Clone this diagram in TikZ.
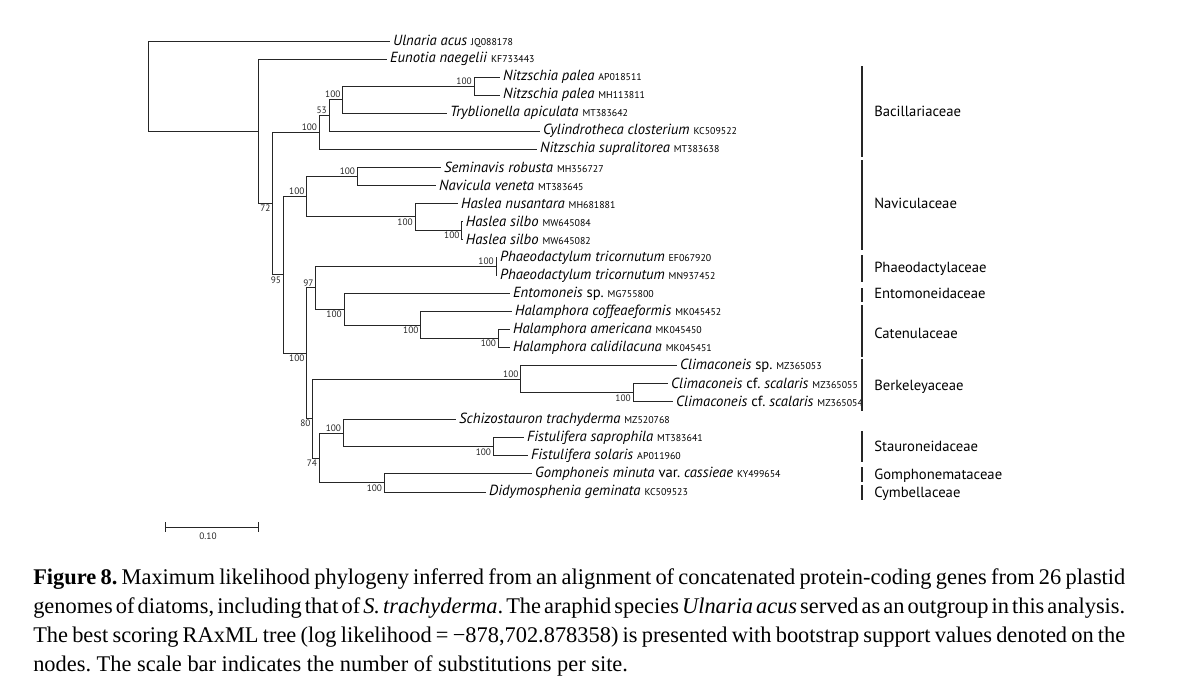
\documentclass[tikz,border=0pt]{standalone}
\usepackage{fontspec}
\setmainfont{Liberation Serif}
\newfontfamily\treefont{PT Sans}
\newcommand\accno[1]{{\fontsize{7.4}{8}\selectfont #1}}
\newcommand\capsp{\spaceskip=0.24em plus 0.5em minus 0.11em\relax}
\newcommand\capline[1]{\hbox to 819pt{\capsp #1}}
\frenchspacing
\begin{document}
\begin{tikzpicture}[x=0.75pt,y=-0.75pt,
  br/.style={line width=0.75pt, draw=black!85},
  leaf/.style={anchor=west, inner sep=2.2pt, font=\treefont\fontsize{11}{12}\selectfont},
  bs/.style={font=\treefont\fontsize{7}{8}\selectfont, inner sep=1pt, text=black!85},
  bsa/.style={bs, anchor=south east, xshift=-0.5pt},
  bsb/.style={bs, anchor=north east, xshift=-0.5pt},
  fam/.style={anchor=west, inner sep=0pt, font=\treefont\fontsize{11}{12}\selectfont},
  famline/.style={line width=1pt, draw=black!85},
  captext/.style={anchor=base west, inner sep=0pt, font=\fontsize{16.8}{19}\selectfont}]
\useasboundingbox (0,0) rectangle (1181,687);
% internal nodes
\coordinate (root) at (148,86.17);
\coordinate (A) at (258,131.34);
\coordinate (B) at (272.7,203.64);
\coordinate (C) at (319.3,132.33);
\coordinate (D) at (329,115.42);
\coordinate (E) at (342.7,99.63);
\coordinate (F) at (474,86.1);
\coordinate (L) at (283.3,274.95);
\coordinate (H) at (306.7,196.6);
\coordinate (I) at (357.3,176.3);
\coordinate (J) at (415,216.89);
\coordinate (K) at (461.7,230.42);
\coordinate (M) at (306.7,353.3);
\coordinate (N) at (315.7,287.9);
\coordinate (Q) at (496,266.5);
\coordinate (R) at (344,309.35);
\coordinate (S) at (420.7,325.13);
\coordinate (T) at (498.3,338.66);
\coordinate (P) at (312.7,418.7);
\coordinate (U) at (520.7,379.25);
\coordinate (W) at (633,392.78);
\coordinate (V) at (319.3,458.2);
\coordinate (X) at (343.3,433.37);
\coordinate (Z) at (493.3,446.9);
\coordinate (Y) at (384.3,482.98);
% leaves
\node[leaf] (l1) at (390,41) {\textit{Ulnaria acus} \accno{JQ088178}};
\node[leaf] (l2) at (387,59.04) {\textit{Eunotia naegelii} \accno{KF733443}};
\node[leaf] (l3) at (500,77.08) {\textit{Nitzschia palea} \accno{AP018511}};
\node[leaf] (l4) at (500,95.12) {\textit{Nitzschia palea} \accno{MH113811}};
\node[leaf] (l5) at (447,113.16) {\textit{Tryblionella apiculata} \accno{MT383642}};
\node[leaf] (l6) at (540,131.2) {\textit{Cylindrotheca closterium} \accno{KC509522}};
\node[leaf] (l7) at (537,149.24) {\textit{Nitzschia supralitorea} \accno{MT383638}};
\node[leaf] (l8) at (441,167.28) {\textit{Seminavis robusta} \accno{MH356727}};
\node[leaf] (l9) at (436,185.32) {\textit{Navicula veneta} \accno{MT383645}};
\node[leaf] (l10) at (458,203.36) {\textit{Haslea nusantara} \accno{MH681881}};
\node[leaf] (l11) at (462.7,221.4) {\textit{Haslea silbo} \accno{MW645084}};
\node[leaf] (l12) at (462.7,239.44) {\textit{Haslea silbo} \accno{MW645082}};
\node[leaf] (l13) at (497,257.48) {\textit{Phaeodactylum tricornutum} \accno{EF067920}};
\node[leaf] (l14) at (497,275.52) {\textit{Phaeodactylum tricornutum} \accno{MN937452}};
\node[leaf] (l15) at (510,293.56) {\textit{Entomoneis} sp. \accno{MG755800}};
\node[leaf] (l16) at (512,311.6) {\textit{Halamphora coffeaeformis} \accno{MK045452}};
\node[leaf] (l17) at (510,329.64) {\textit{Halamphora americana} \accno{MK045450}};
\node[leaf] (l18) at (510,347.68) {\textit{Halamphora calidilacuna} \accno{MK045451}};
\node[leaf] (l19) at (677,365.72) {\textit{Climaconeis} sp. \accno{MZ365053}};
\node[leaf] (l20) at (668,383.76) {\textit{Climaconeis} cf. \textit{scalaris} \accno{MZ365055}};
\node[leaf] (l21) at (673,401.8) {\textit{Climaconeis} cf. \textit{scalaris} \accno{MZ365054}};
\node[leaf] (l22) at (456,419.84) {\textit{Schizostauron trachyderma} \accno{MZ520768}};
\node[leaf] (l23) at (524,437.88) {\textit{Fistulifera saprophila} \accno{MT383641}};
\node[leaf] (l24) at (528,455.92) {\textit{Fistulifera solaris} \accno{AP011960}};
\node[leaf] (l25) at (532,473.96) {\textit{Gomphoneis minuta} var. \textit{cassieae} \accno{KY499654}};
\node[leaf] (l26) at (486,492) {\textit{Didymosphenia geminata} \accno{KC509523}};
% branches
\draw[br] (root) |- (l1.west);  \draw[br] (root) |- (A);
\draw[br] (A) |- (l2.west);     \draw[br] (A) |- (B);
\draw[br] (B) |- (C);           \draw[br] (B) |- (L);
\draw[br] (C) |- (D);           \draw[br] (C) |- (l7.west);
\draw[br] (D) |- (E);           \draw[br] (D) |- (l6.west);
\draw[br] (E) |- (F);           \draw[br] (E) |- (l5.west);
\draw[br] (F) |- (l3.west);     \draw[br] (F) |- (l4.west);
\draw[br] (L) |- (H);           \draw[br] (L) |- (M);
\draw[br] (H) |- (I);           \draw[br] (H) |- (J);
\draw[br] (I) |- (l8.west);     \draw[br] (I) |- (l9.west);
\draw[br] (J) |- (l10.west);    \draw[br] (J) |- (K);
\draw[br] (K) |- (l11.west);    \draw[br] (K) |- (l12.west);
\draw[br] (M) |- (N);           \draw[br] (M) |- (P);
\draw[br] (N) |- (Q);           \draw[br] (N) |- (R);
\draw[br] (Q) |- (l13.west);    \draw[br] (Q) |- (l14.west);
\draw[br] (R) |- (l15.west);    \draw[br] (R) |- (S);
\draw[br] (S) |- (l16.west);    \draw[br] (S) |- (T);
\draw[br] (T) |- (l17.west);    \draw[br] (T) |- (l18.west);
\draw[br] (P) |- (U);           \draw[br] (P) |- (V);
\draw[br] (U) |- (l19.west);    \draw[br] (U) |- (W);
\draw[br] (W) |- (l20.west);    \draw[br] (W) |- (l21.west);
\draw[br] (V) |- (X);           \draw[br] (V) |- (Y);
\draw[br] (X) |- (l22.west);    \draw[br] (X) |- (Z);
\draw[br] (Z) |- (l23.west);    \draw[br] (Z) |- (l24.west);
\draw[br] (Y) |- (l25.west);    \draw[br] (Y) |- (l26.west);
% bootstrap values
\node[bsa] (bF) at (F) {100};
\node[bsa] (bE) at (E) {100};
\node[bsa] (bD) at (D) {53};
\node[bsa] (bC) at (C) {100};
\node[bsb] (bB) at (B) {72};
\node[bsa] (bH) at (H) {100};
\node[bsa] (bI) at (I) {100};
\node[bsb] (bJ) at (J) {100};
\node[bsb] (bK) at (K) {100};
\node[bsb] (bL) at (L) {95};
\node[bsb] (bM) at (M) {100};
\node[bsa] (bN) at (N) {97};
\node[bsa] (bQ) at (Q) {100};
\node[bsb] (bR) at (R) {100};
\node[bsb] (bS) at (S) {100};
\node[bsb] (bT) at (T) {100};
\node[bsa] (bU) at (U) {100};
\node[bsb] (bW) at (W) {100};
\node[bsb] (bP) at (P) {80};
\node[bsa] (bX) at (X) {100};
\node[bsb] (bZ) at (Z) {100};
\node[bsb] (bV) at (V) {74};
\node[bsb] (bY) at (Y) {100};
% families
\draw[famline] (862,66) -- (862,157);
\draw[famline] (862,160) -- (862,250);
\draw[famline] (862,255) -- (862,282);
\draw[famline] (862,288) -- (862,302);
\draw[famline] (862,305) -- (862,357);
\draw[famline] (862,359) -- (862,411);
\draw[famline] (862,431) -- (862,462);
\draw[famline] (862,467) -- (862,482);
\draw[famline] (862,485) -- (862,500);
\node[fam] (f1) at (874,111) {Bacillariaceae};
\node[fam] (f2) at (874,203) {Naviculaceae};
\node[fam] (f3) at (874,269) {Phaeodactylaceae};
\node[fam] (f4) at (874,293) {Entomoneidaceae};
\node[fam] (f5) at (874,333) {Catenulaceae};
\node[fam] (f6) at (874,387) {Berkeleyaceae};
\node[fam] (f7) at (874,446) {Stauroneidaceae};
\node[fam] (f8) at (874,476) {Gomphonemataceae};
\node[fam] (f9) at (874,494) {Cymbellaceae};
% scale bar
\coordinate (sb1) at (165,527);
\coordinate (sb2) at (258,527);
\draw[br] (sb1) -- (sb2);
\draw[br] ([yshift=-3.5]sb1) -- ([yshift=3.5]sb1);
\draw[br] ([yshift=-3.5]sb2) -- ([yshift=3.5]sb2);
\node[bs, anchor=north] (sbl) at (208,531) {0.10};
% caption
\node[captext] (c1) at (33,584) {\capline{\textbf{Figure 8.} Maximum likelihood phylogeny inferred from an alignment of concatenated protein-coding genes from 26 plastid}};
\node[captext] (c2) at (33,613) {\capline{genomes of diatoms, including that of \textit{S.~trachyderma}. The araphid species \textit{Ulnaria acus} served as an outgroup in this analysis.}};
\node[captext] (c3) at (33,642) {\capline{The best scoring RAxML tree (log likelihood = −878,702.878358) is presented with bootstrap support values denoted on the}};
\node[captext] (c4) at (33,671) {nodes. The scale bar indicates the number of substitutions per site.};
\end{tikzpicture}
\end{document}
